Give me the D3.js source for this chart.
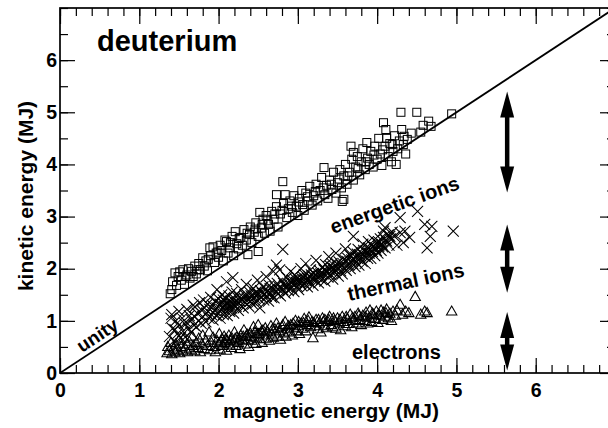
<!DOCTYPE html>
<html>
<head>
<meta charset="utf-8">
<script src="https://cdn.jsdelivr.net/npm/d3@7"></script>
<style>
body { margin: 0; background: #fff; }
text { font-family: "Liberation Sans", Arial, Helvetica, sans-serif; font-weight: bold; fill: #000; }
</style>
</head>
<body>
<script>
var width = 608, height = 428;

// tick labels
var xTicks = [0, 1, 2, 3, 4, 5, 6];
var yTicks = [0, 1, 2, 3, 4, 5, 6];

// squares: total ion kinetic energy [magnetic, kinetic]
var totalIons = [[1.39,1.52],[1.41,1.60],[1.42,1.75],[1.45,1.92],[1.47,1.68],[1.49,1.85],[1.51,1.94],[1.53,1.78],[1.55,1.98],[1.57,1.70],[1.58,1.85],[1.60,1.88],[1.62,2.00],[1.64,1.82],[1.66,1.95],[1.68,1.85],[1.70,2.05],[1.72,1.90],[1.74,1.98],[1.75,2.10],[1.77,1.98],[1.80,2.21],[1.82,2.05],[1.84,2.15],[1.86,1.96],[1.87,2.18],[1.89,2.40],[1.90,2.25],[1.93,2.42],[1.95,2.12],[1.97,2.30],[1.99,2.32],[2.00,2.22],[2.02,2.45],[2.04,2.35],[2.06,2.15],[2.08,2.55],[2.10,2.52],[2.12,2.30],[2.14,2.40],[2.15,2.50],[2.17,2.62],[2.19,2.25],[2.21,2.71],[2.23,2.48],[2.25,2.38],[2.26,2.58],[2.28,2.60],[2.30,2.45],[2.32,2.75],[2.35,2.55],[2.36,2.68],[2.37,2.27],[2.39,2.66],[2.40,2.80],[2.42,2.50],[2.45,2.70],[2.46,2.76],[2.47,2.88],[2.50,2.33],[2.50,2.62],[2.52,3.08],[2.54,2.78],[2.55,2.85],[2.56,2.95],[2.58,2.68],[2.60,3.02],[2.62,2.92],[2.63,2.85],[2.65,2.72],[2.67,3.10],[2.70,2.95],[2.71,3.05],[2.73,3.42],[2.73,3.19],[2.75,2.80],[2.78,3.05],[2.80,3.12],[2.81,3.67],[2.82,3.25],[2.84,3.42],[2.86,2.98],[2.88,3.15],[2.90,3.30],[2.92,3.20],[2.93,3.08],[2.95,3.40],[2.98,3.20],[3.00,3.02],[3.01,3.28],[3.02,3.35],[3.05,3.50],[3.06,3.23],[3.08,3.12],[3.10,3.45],[3.12,3.38],[3.13,3.30],[3.15,3.58],[3.18,3.22],[3.20,3.40],[3.22,3.48],[3.23,3.62],[3.25,3.30],[3.28,3.50],[3.30,3.75],[3.32,3.55],[3.33,3.94],[3.34,3.42],[3.36,3.60],[3.38,3.35],[3.40,3.70],[3.42,3.62],[3.43,3.52],[3.45,3.85],[3.48,3.45],[3.50,3.65],[3.52,3.72],[3.53,3.90],[3.55,3.55],[3.56,3.29],[3.58,3.33],[3.58,3.78],[3.60,4.00],[3.62,3.62],[3.63,3.78],[3.65,3.85],[3.67,4.35],[3.68,4.10],[3.70,4.23],[3.70,3.70],[3.73,3.95],[3.75,4.15],[3.76,3.92],[3.78,3.80],[3.80,4.05],[3.82,4.30],[3.85,3.90],[3.86,4.05],[3.87,4.42],[3.88,4.12],[3.90,4.00],[3.92,4.25],[3.95,3.95],[3.96,4.18],[3.97,4.35],[4.00,4.10],[4.02,4.50],[4.04,4.20],[4.06,3.98],[4.07,4.28],[4.08,4.80],[4.10,4.35],[4.11,4.67],[4.12,4.50],[4.14,4.15],[4.16,4.40],[4.18,4.05],[4.19,4.38],[4.20,4.25],[4.22,4.55],[4.24,4.00],[4.26,4.30],[4.28,4.45],[4.30,5.00],[4.31,4.67],[4.33,4.38],[4.34,4.54],[4.36,4.20],[4.38,4.48],[4.43,4.60],[4.50,5.00],[4.55,4.62],[4.58,4.75],[4.65,4.83],[4.68,4.73],[4.94,4.97]];

// crosses: thermal ions
var thermalIons = [[1.38,0.70],[1.40,1.05],[1.41,1.12],[1.42,0.85],[1.44,0.62],[1.45,0.83],[1.46,1.00],[1.48,0.75],[1.50,1.18],[1.50,0.92],
[1.52,0.68],[1.54,1.05],[1.55,0.80],[1.57,0.95],[1.58,0.69],[1.60,0.96],[1.60,1.22],[1.62,0.85],[1.63,1.10],[1.65,0.78],[1.66,1.02],[1.68,1.30],[1.69,0.92],[1.70,1.27],[1.70,1.08],
[1.72,0.88],[1.73,1.15],[1.75,1.00],[1.76,1.35],[1.78,0.95],[1.79,1.20],[1.80,1.08],[1.81,1.40],[1.82,1.25],[1.84,0.98],[1.85,1.15],[1.86,1.32],[1.88,1.05],[1.89,1.22],[1.90,1.45],
[1.91,1.12],[1.92,1.30],[1.93,1.02],[1.95,1.20],[1.96,1.38],[1.97,1.10],[1.98,1.60],[1.98,1.25],[2.00,1.15],[2.00,1.42],[2.01,1.30],[2.02,1.05],[2.02,1.32],[2.03,1.22],[2.04,1.50],[2.05,1.35],[2.06,1.12],[2.06,1.40],[2.07,1.28],[2.08,1.45],[2.09,1.20],[2.10,1.75],[2.10,1.35],
[2.11,1.10],[2.11,1.33],[2.12,1.28],[2.13,1.48],[2.14,1.18],[2.15,1.38],[2.15,1.30],[2.16,1.25],[2.17,1.55],[2.18,1.83],[2.18,1.32],[2.19,1.15],[2.20,1.42],[2.21,1.35],[2.22,1.28],[2.23,1.52],[2.24,1.36],[2.25,1.20],[2.26,1.45],[2.27,1.38],[2.28,1.30],[2.29,1.60],[2.30,1.40],[2.31,1.25],[2.32,1.44],[2.33,1.50],[2.34,1.35],[2.35,1.70],[2.36,1.42],[2.37,1.48],[2.38,1.28],[2.39,1.55],
[2.40,1.38],[2.41,1.48],[2.42,1.40],[2.43,1.32],[2.44,1.62],[2.45,1.45],[2.46,1.52],[2.47,1.55],[2.48,1.36],[2.49,1.78],[2.50,1.50],[2.51,1.42],[2.52,1.25],[2.53,1.58],[2.54,1.46],[2.55,1.53],[2.56,1.65],[2.57,1.40],[2.58,1.52],[2.60,1.85],[2.60,1.47],[2.61,1.55],[2.62,1.58],[2.63,1.38],[2.64,1.68],[2.65,1.62],[2.66,1.52],[2.67,1.45],[2.69,1.95],[2.69,1.60],
[2.70,1.44],[2.71,1.66],[2.72,1.57],[2.73,2.07],[2.74,1.72],[2.75,1.52],[2.76,1.60],[2.77,1.98],[2.77,1.64],[2.78,1.48],[2.80,1.77],[2.81,2.37],[2.81,1.60],[2.82,1.72],[2.83,1.68],[2.84,1.53],[2.86,1.83],[2.87,1.65],[2.88,1.58],[2.89,1.70],[2.90,1.75],[2.91,1.95],[2.92,1.63],[2.93,1.78],[2.94,1.71],[2.95,1.56],[2.96,1.88],[2.97,1.80],[2.98,1.74],[2.99,1.66],
[3.00,1.82],[3.01,1.60],[3.02,1.76],[3.03,1.72],[3.04,2.00],[3.05,1.67],[3.06,1.80],[3.07,1.84],[3.08,1.89],[3.09,1.71],[3.10,2.10],[3.11,1.77],[3.12,1.65],[3.13,1.80],[3.14,1.86],[3.15,1.74],[3.16,1.98],[3.17,1.88],[3.18,1.81],[3.19,1.68],[3.20,1.91],[3.21,1.84],[3.22,1.77],[3.23,2.16],[3.24,1.85],[3.25,1.92],[3.26,1.73],[3.27,1.97],[3.28,1.87],[3.29,1.90],[3.30,1.79],
[3.31,2.03],[3.32,1.90],[3.33,1.98],[3.34,1.76],[3.35,2.08],[3.36,1.94],[3.37,1.95],[3.38,1.84],[3.39,2.23],[3.40,1.98],[3.41,2.05],[3.42,1.88],[3.43,2.10],[3.44,1.80],[3.45,2.00],[3.46,2.00],[3.47,1.93],[3.48,2.30],[3.49,2.10],[3.50,2.03],[3.51,1.86],[3.52,2.13],[3.53,2.04],[3.54,1.96],[3.55,2.06],[3.56,1.90],[3.57,2.10],[3.58,2.18],[3.59,2.00],[3.60,2.38],
[3.61,1.97],[3.62,2.14],[3.63,2.20],[3.64,2.07],[3.65,2.27],[3.66,2.00],[3.67,2.24],[3.68,2.17],[3.69,2.10],[3.70,2.62],[3.70,2.32],[3.71,2.18],[3.72,2.04],[3.73,2.22],[3.74,2.12],[3.75,2.28],[3.76,2.37],[3.77,2.07],[3.78,2.20],[3.79,2.25],[3.80,2.30],[3.81,2.14],[3.82,2.47],[3.83,2.35],[3.84,2.24],[3.85,2.10],[3.86,2.34],[3.87,2.30],[3.88,2.20],[3.89,2.52],[3.89,2.40],
[3.90,2.30],[3.91,2.38],[3.92,2.20],[3.93,2.45],[3.94,2.33],[3.95,2.42],[3.96,2.55],[3.97,2.25],[3.98,2.40],[3.99,2.35],[4.00,2.50],[4.01,2.30],[4.02,2.43],[4.03,2.50],[4.04,2.57],[4.05,2.35],[4.06,2.47],[4.07,2.42],[4.08,2.72],[4.08,2.60],[4.10,2.79],[4.10,2.40],[4.11,2.55],[4.12,2.53],[4.14,2.65],[4.15,2.45],[4.16,2.62],[4.17,2.57],[4.19,2.70],
[4.22,2.62],[4.25,2.45],[4.29,2.69],[4.29,2.98],[4.33,2.50],[4.35,2.72],[4.41,2.60],[4.51,3.10],[4.60,2.85],[4.63,2.40],[4.67,2.62],[4.69,2.81],[4.96,2.72]];

// triangles: electrons
var electrons = [[1.35,0.38],[1.36,0.50],[1.38,0.42],[1.40,0.58],[1.41,0.36],[1.43,0.47],[1.45,0.40],[1.46,0.55],[1.48,0.44],[1.50,0.62],[1.51,0.38],[1.53,0.50],[1.55,0.42],[1.56,0.66],[1.58,0.47],[1.60,0.55],[1.61,0.40],[1.63,0.60],[1.65,0.45],[1.67,0.70],[1.68,0.52],[1.70,0.42],[1.72,0.58],[1.74,0.48],[1.75,0.66],[1.77,0.40],[1.79,0.55],[1.80,0.72],[1.82,0.46],[1.84,0.62],[1.86,0.52],[1.88,0.78],[1.89,0.44],[1.91,0.58],[1.93,0.68],[1.95,0.50],[1.96,0.40],[1.98,0.62],[2.00,0.55],[2.01,0.75],[2.02,0.45],[2.03,0.60],[2.04,0.65],[2.05,0.52],[2.07,0.70],[2.08,0.58],[2.09,0.65],[2.10,0.43],[2.11,0.62],[2.13,0.72],[2.14,0.55],[2.15,0.62],[2.16,0.48],[2.17,0.66],[2.19,0.60],[2.20,0.78],[2.21,0.66],[2.22,0.52],[2.23,0.68],[2.25,0.58],[2.26,0.64],[2.27,0.46],[2.28,0.72],[2.30,0.62],[2.31,0.70],[2.32,0.82],[2.33,0.55],[2.35,0.70],[2.36,0.74],[2.37,0.64],[2.38,0.50],[2.40,0.76],[2.41,0.70],[2.42,0.62],[2.44,0.88],[2.45,0.68],[2.46,0.78],[2.47,0.56],[2.49,0.74],[2.50,0.92],[2.51,0.75],[2.52,0.65],[2.54,0.80],[2.55,0.58],[2.56,0.82],[2.57,0.72],[2.59,0.86],[2.60,0.66],[2.61,0.80],[2.62,0.78],[2.64,0.62],[2.66,0.90],[2.67,0.74],[2.68,0.84],[2.69,0.68],[2.71,0.84],[2.73,0.95],[2.74,0.70],[2.75,0.86],[2.76,0.80],[2.78,0.64],[2.80,0.88],[2.81,0.92],[2.82,0.76],[2.84,0.98],[2.85,0.70],[2.87,0.84],[2.88,0.90],[2.89,0.78],[2.91,0.92],[2.93,0.72],[2.94,0.95],[2.95,0.86],[2.97,1.00],[2.98,0.80],[3.00,0.90],[3.01,0.98],[3.02,0.75],[3.04,0.95],[3.06,0.85],[3.07,0.96],[3.08,1.04],[3.10,0.80],[3.12,0.92],[3.13,1.00],[3.14,1.07],[3.16,0.88],[3.18,0.98],[3.19,0.67],[3.20,0.96],[3.21,0.90],[3.23,1.02],[3.25,0.84],[3.26,1.02],[3.27,0.95],[3.29,0.78],[3.31,1.05],[3.32,0.98],[3.33,0.90],[3.34,1.02],[3.36,0.86],[3.38,0.98],[3.39,1.02],[3.40,1.08],[3.42,0.92],[3.44,0.88],[3.45,1.05],[3.46,1.00],[3.48,0.85],[3.50,1.05],[3.52,0.95],[3.53,1.02],[3.54,0.82],[3.56,1.08],[3.58,0.98],[3.60,0.90],[3.61,1.08],[3.62,1.04],[3.64,0.94],[3.66,1.12],[3.68,0.88],[3.69,1.06],[3.70,1.00],[3.72,1.08],[3.74,0.95],[3.76,1.14],[3.77,1.10],[3.78,1.02],[3.80,0.92],[3.82,1.10],[3.84,1.00],[3.85,1.08],[3.86,1.16],[3.88,0.95],[3.90,1.06],[3.91,1.20],[3.93,0.98],[3.94,1.14],[3.95,1.12],[3.97,1.04],[3.99,1.18],[4.01,0.96],[4.02,1.12],[4.03,1.10],[4.05,1.20],[4.07,1.02],[4.08,1.16],[4.10,1.08],[4.11,1.15],[4.12,1.22],[4.14,1.05],[4.16,1.14],[4.18,1.00],[4.20,1.18],[4.23,1.10],[4.25,1.20],[4.29,1.31],[4.32,1.12],[4.36,1.18],[4.40,1.15],[4.48,1.46],[4.55,1.12],[4.60,1.18],[4.63,1.15],[4.94,1.18]];

// double arrows (x, from, to) in MJ
var arrowX = [5.64, 5.64, 5.64];
var arrowFrom = [3.46, 1.54, 0.05];
var arrowTo = [5.40, 2.85, 1.17];

var x = d3.scaleLinear().domain([0, 7]).range([60, 615]);
var y = d3.scaleLinear().domain([0, 7]).range([373, 8]);

var svg = d3.select("body")
.append("svg")
.attr("width", width)
.attr("height", height)
.attr("id","svg");

svg.append("rect").attr("width", width).attr("height", height).attr("fill", "#fff");

svg.append("defs").append("clipPath")
	.attr("id", "plotClip")
	.append("rect")
		.attr("x", x(0))
		.attr("y", y(7))
		.attr("width", x(7) - x(0))
		.attr("height", y(0) - y(7));

var xMinor = d3.range(0, 7.01, 0.2);
var yMinor = d3.range(0, 7.01, 0.5);

function noDomain(g){ g.select(".domain").remove(); }

// minor ticks first, then majors with labels
svg.append("g").attr("transform", "translate(0," + y(0) + ")")
.call(d3.axisBottom(x).tickValues(xMinor).tickSize(-8).tickFormat(""))
.call(noDomain);
svg.append("g").attr("transform", "translate(0," + y(0) + ")")
.call(d3.axisBottom(x).tickValues(xTicks).tickSize(-15).tickPadding(10).tickFormat(d3.format("d")))
.call(noDomain)
.selectAll("text").style("font-size", "19.5px").style("font-family", null);

svg.append("g").attr("transform", "translate(0," + y(7) + ")")
.call(d3.axisTop(x).tickValues(xMinor).tickSize(-8).tickFormat(""))
.call(noDomain);
svg.append("g").attr("transform", "translate(0," + y(7) + ")")
.call(d3.axisTop(x).tickValues(d3.range(0, 8)).tickSize(-16).tickFormat(""))
.call(noDomain);

svg.append("g").attr("transform", "translate(" + x(0) + ",0)")
.call(d3.axisLeft(y).tickValues(yMinor).tickSize(-8).tickFormat(""))
.call(noDomain);
svg.append("g").attr("transform", "translate(" + x(0) + ",0)")
.call(d3.axisLeft(y).tickValues(yTicks).tickSize(-15).tickPadding(3).tickFormat(d3.format("d")))
.call(noDomain)
.selectAll("text").style("font-size", "19.5px").style("font-family", null);

svg.append("g").attr("transform", "translate(" + x(7) + ",0)")
.call(d3.axisRight(y).tickValues(yMinor).tickSize(-8).tickFormat(""))
.call(noDomain);
svg.append("g").attr("transform", "translate(" + x(7) + ",0)")
.call(d3.axisRight(y).tickValues(yTicks).tickSize(-15).tickFormat(""))
.call(noDomain);

svg.selectAll(".tick line").attr("stroke", "#000").attr("stroke-width", 1.2);

// frame
svg.append("rect")
.attr("x", x(0)).attr("y", y(7))
.attr("width", x(7) - x(0)).attr("height", y(0) - y(7))
.attr("fill", "none").attr("stroke", "#000").attr("stroke-width", 1.7);

var plot = svg.append("g").attr("clip-path", "url(#plotClip)");

// unity line
plot.append("line")
.attr("x1", x(0)).attr("y1", y(0))
.attr("x2", x(7)).attr("y2", y(7))
.attr("stroke", "#000").attr("stroke-width", 1.8);

plot.selectAll(".sq")
.data(totalIons).
enter().append("rect")
.attr("class","sq")
.attr("x", function(d){ return x(d[0]) - 4; })
.attr("y", function(d){ return y(d[1]) - 4; })
.attr("width", 8).attr("height", 8)
.attr("fill", "none").attr("stroke", "#000").attr("stroke-width", 1);

plot.selectAll(".cross")
.data(thermalIons).
enter().append("path")
.attr("class","cross")
.attr("transform", function(d){ return "translate(" + x(d[0]) + "," + y(d[1]) + ")"; })
.attr("d", "M-5.5,-5.5L5.5,5.5M-5.5,5.5L5.5,-5.5")
.attr("fill", "none").attr("stroke", "#000").attr("stroke-width", 1.05);

plot.selectAll(".tri")
.data(electrons).
enter().append("path")
.attr("class","tri")
.attr("transform", function(d){ return "translate(" + x(d[0]) + "," + y(d[1]) + ")"; })
.attr("d", "M0,-5.5L5.2,3.6L-5.2,3.6Z")
.attr("fill", "none").attr("stroke", "#000").attr("stroke-width", 1.05);

// double-headed arrows
var headLen = 26, headW = 7;
arrowX.forEach(function(ax, i){
	var px = x(ax), top = y(arrowTo[i]), bot = y(arrowFrom[i]);
	svg.append("line")
		.attr("x1", px).attr("x2", px)
		.attr("y1", top + headLen - 2).attr("y2", bot - headLen + 2)
		.attr("stroke", "#000").attr("stroke-width", 4.5);
	svg.append("path")
		.attr("d", "M" + px + "," + top + "L" + (px + headW) + "," + (top + headLen) + "L" + (px - headW) + "," + (top + headLen) + "Z")
		.attr("fill", "#000");
	svg.append("path")
		.attr("d", "M" + px + "," + bot + "L" + (px + headW) + "," + (bot - headLen) + "L" + (px - headW) + "," + (bot - headLen) + "Z")
		.attr("fill", "#000");
});

// labels
svg.append("text").attr("x", 97).attr("y", 51).style("font-size", "29px").text("deuterium");

svg.append("text")
.attr("transform", "translate(82,353) rotate(-33.3)")
.style("font-size", "19px").text("unity");

svg.append("text")
.attr("transform", "translate(333,234) rotate(-19.5)")
.style("font-size", "20px").text("energetic ions");

svg.append("text")
.attr("transform", "translate(349,301) rotate(-12)")
.style("font-size", "20px").text("thermal ions");

svg.append("text")
.attr("x", 352).attr("y", 359)
.style("font-size", "20px").text("electrons");

svg.append("text")
.attr("x", 331).attr("y", 418)
.attr("text-anchor", "middle")
.style("font-size", "21px").text("magnetic energy (MJ)");

svg.append("text")
.attr("transform", "translate(33,196) rotate(-90)")
.attr("text-anchor", "middle")
.style("font-size", "21px").text("kinetic energy (MJ)");
</script>
</body>
</html>
